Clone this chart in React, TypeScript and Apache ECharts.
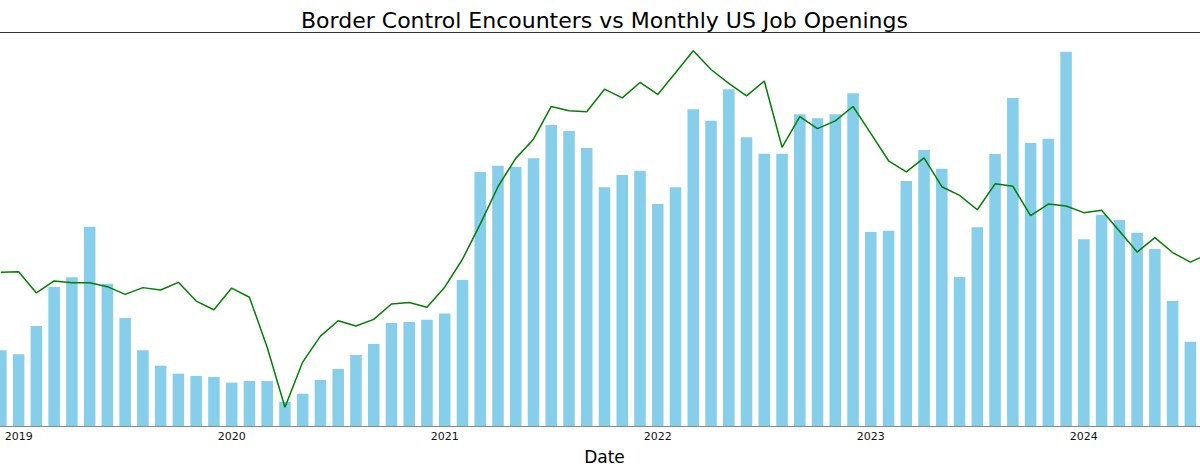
import React, { useEffect, useRef } from 'react';
import * as echarts from 'echarts';

// monthly categories, Dec 2018 .. Aug 2024
const months = [
  '2018-12',
  '2019-01', '2019-02', '2019-03', '2019-04', '2019-05', '2019-06', '2019-07', '2019-08', '2019-09', '2019-10', '2019-11', '2019-12',
  '2020-01', '2020-02', '2020-03', '2020-04', '2020-05', '2020-06', '2020-07', '2020-08', '2020-09', '2020-10', '2020-11', '2020-12',
  '2021-01', '2021-02', '2021-03', '2021-04', '2021-05', '2021-06', '2021-07', '2021-08', '2021-09', '2021-10', '2021-11', '2021-12',
  '2022-01', '2022-02', '2022-03', '2022-04', '2022-05', '2022-06', '2022-07', '2022-08', '2022-09', '2022-10', '2022-11', '2022-12',
  '2023-01', '2023-02', '2023-03', '2023-04', '2023-05', '2023-06', '2023-07', '2023-08', '2023-09', '2023-10', '2023-11', '2023-12',
  '2024-01', '2024-02', '2024-03', '2024-04', '2024-05', '2024-06', '2024-07', '2024-08',
];

// border encounters, thousands
const encounters = [
  61.5,
  58.2, 81.2, 112.9, 120.8, 161.9, 115.6, 87.7, 61.5, 49.0, 42.5, 40.6, 39.8,
  35.2, 36.5, 36.5, 19.7, 26.2, 37.4, 46.3, 57.7, 66.6, 83.7, 84.5, 86.3,
  91.4, 118.6, 206.3, 211.4, 210.4, 217.4, 244.5, 239.6, 225.8, 193.9, 203.9, 207.4,
  180.3, 193.9, 257.2, 248.0, 273.5, 234.5, 221.2, 221.2, 253.2, 249.9, 253.2, 270.2,
  157.6, 158.6, 199.0, 224.2, 209.0, 121.0, 161.4, 220.9, 266.4, 229.9, 233.3, 304.0,
  151.6, 171.4, 167.3, 157.0, 143.8, 101.5, 68.5, null,
];

// US job openings, millions
const jobOpenings = [
  7.40,
  7.41, 6.97, 7.22, 7.18, 7.18, 7.10, 6.94, 7.08, 7.03, 7.19, 6.80, 6.62,
  7.07, 6.88, 5.84, 4.59, 5.53, 6.07, 6.39, 6.28, 6.42, 6.74, 6.77, 6.67,
  7.09, 7.67, 8.40, 9.18, 9.77, 10.17, 10.85, 10.76, 10.74, 11.21, 11.03, 11.35,
  11.10, 11.55, 12.01, 11.62, 11.33, 11.07, 11.38, 10.00, 10.64, 10.39, 10.55, 10.85,
  10.29, 9.72, 9.49, 9.78, 9.18, 9.00, 8.70, 9.24, 9.19, 8.58, 8.82, 8.78,
  8.64, 8.69, 8.26, 7.82, 8.12, 7.81, 7.61, 7.78,
];

const isJanuary = (_: number, value: string) => value.endsWith('-01');

const App: React.FC = () => {
  const chartRef = useRef<HTMLDivElement>(null);

  useEffect(() => {
    if (!chartRef.current) return;
    const chart = echarts.init(chartRef.current, undefined, { renderer: 'svg' });
    const font = '"DejaVu Sans", sans-serif';

    const option: echarts.EChartsOption = {
      animation: false,
      backgroundColor: '#fff',
      title: {
        text: 'Border Control Encounters vs Monthly US Job Openings',
        left: 'center',
        top: 4,
        textStyle: { fontFamily: font, fontSize: 22, fontWeight: 'normal', color: '#000' },
      },
      grid: { left: 0, right: 0, top: 32, bottom: 48 },
      xAxis: [
        {
          type: 'category',
          data: months,
          name: 'Date',
          nameLocation: 'middle',
          nameGap: 22,
          nameTextStyle: { fontFamily: font, fontSize: 17, color: '#000' },
          axisLine: { lineStyle: { color: '#888', width: 1.2 } },
          axisTick: { interval: isJanuary, alignWithLabel: true, length: 3.5, lineStyle: { color: '#888' } },
          axisLabel: {
            interval: isJanuary,
            formatter: (v: string) => v.slice(0, 4),
            fontFamily: font,
            fontSize: 11,
            color: '#111',
            margin: 5,
          },
          splitLine: { show: false },
        },
        {
          type: 'category',
          data: months,
          position: 'top',
          axisLine: { lineStyle: { color: '#333', width: 1.2 } },
          axisTick: { show: false },
          axisLabel: { show: false },
        },
      ],
      yAxis: [
        { type: 'value', min: 0, max: 320, show: false, splitLine: { show: false } },
        { type: 'value', min: 4.2, max: 12.4, show: false, splitLine: { show: false } },
      ],
      series: [
        {
          name: 'Encounters',
          type: 'bar',
          data: encounters,
          xAxisIndex: 0,
          yAxisIndex: 0,
          barWidth: '65%',
          itemStyle: { color: '#87ceeb' },
        },
        {
          name: 'Job Openings',
          type: 'line',
          data: jobOpenings,
          xAxisIndex: 0,
          yAxisIndex: 1,
          symbol: 'none',
          lineStyle: { color: '#008000', width: 1.5 },
          z: 3,
        },
      ],
    };

    chart.setOption(option);
    return () => {
      chart.dispose();
    };
  }, []);

  // the plot runs past both edges of the picture, so the chart is wider than its frame
  return (
    <div style={{ position: 'fixed', left: 0, top: 0, width: '1200px', height: '474px', overflow: 'hidden', background: '#fff' }}>
      <div
        ref={chartRef}
        style={{ position: 'absolute', left: '-7.6px', top: 0, width: '1225.4px', height: '474px' }}
      />
    </div>
  );
};

export default App;
